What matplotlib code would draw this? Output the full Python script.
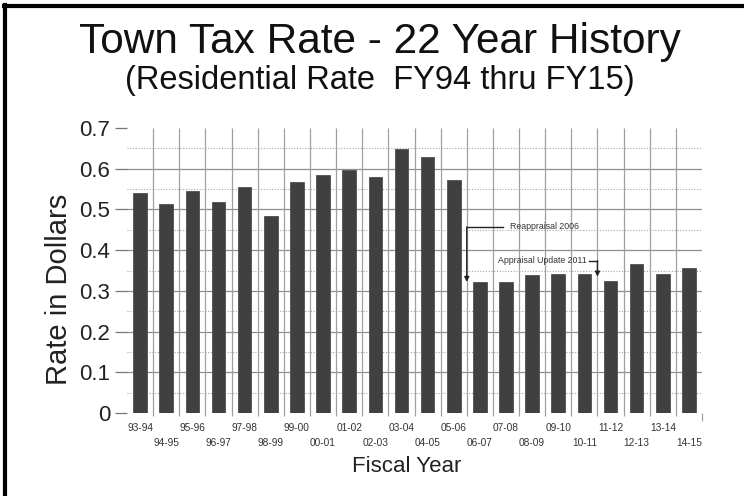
import matplotlib
matplotlib.use("Agg")
import matplotlib.pyplot as plt
import numpy as np
from matplotlib.lines import Line2D
from matplotlib.ticker import MultipleLocator

plt.rcParams['font.family'] = ['Liberation Sans', 'DejaVu Sans']

fiscal_years = ["93-94", "94-95", "95-96", "96-97", "97-98", "98-99", "99-00", "00-01",
                "01-02", "02-03", "03-04", "04-05", "05-06", "06-07", "07-08", "08-09",
                "09-10", "10-11", "11-12", "12-13", "13-14", "14-15"]
rates = [0.54, 0.513, 0.545, 0.519, 0.555, 0.485, 0.568, 0.585,
         0.598, 0.58, 0.648, 0.63, 0.573, 0.321, 0.321, 0.339,
         0.342, 0.342, 0.324, 0.365, 0.342, 0.356]

title = "Town Tax Rate - 22 Year History"
subtitle = "(Residential Rate  FY94 thru FY15)"
ylabel = "Rate in Dollars"
xlabel = "Fiscal Year"

# annotations (label, arrow x in category units, line y, arrow tip y)
ann1_text = "Reappraisal 2006"
ann1_x, ann1_y, ann1_tip = 12.5, 0.457, 0.322
ann2_text = "Appraisal Update 2011"
ann2_x, ann2_y, ann2_tip = 17.5, 0.374, 0.335

W, H = 744, 496
fig = plt.figure(figsize=(W / 100, H / 100), dpi=100)
fig.patch.set_facecolor("white")
ax = fig.add_axes([127 / W, 1 - 413 / H, 575 / W, 285 / H])

n = len(fiscal_years)
x = np.arange(n)
ax.bar(x, rates, width=0.52, color="#404040", edgecolor="#505050", linewidth=0.6, zorder=3)

ax.set_xlim(-0.5, n - 0.5)
ax.set_ylim(0, 0.7)

# grid
ax.yaxis.set_major_locator(MultipleLocator(0.1))
ax.yaxis.set_minor_locator(MultipleLocator(0.05))
for yv in np.arange(0.1, 0.65, 0.1):
    ax.axhline(yv, color="#8f8f8f", lw=0.9, zorder=1)
for yv in np.arange(0.05, 0.7, 0.1):
    ax.axhline(yv, color="#a5a5a5", lw=0.8, ls=(0, (1, 1.5)), zorder=1)
ax.vlines(x[:-1] + 0.5, -0.008, 0.7, color="#a0a0a0", lw=0.9, zorder=1, clip_on=False)
ax.vlines([n - 0.5], -0.02, 0.0, color="#a0a0a0", lw=0.9, zorder=1, clip_on=False)

for s in ax.spines.values():
    s.set_visible(False)

ax.tick_params(axis="y", which="major", direction="out", length=9, width=0.9,
               color="#777777", labelsize=16, labelcolor="#222222", pad=3)
ax.tick_params(axis="y", which="minor", length=0)
ax.set_yticks(np.arange(0, 0.71, 0.1))
ax.set_yticklabels(["0" if v == 0 else f"{v:.1f}" for v in np.arange(0, 0.71, 0.1)])

# two rows of x labels
ax.set_xticks(x[::2])
ax.set_xticklabels(fiscal_years[::2])
ax.set_xticks(x[1::2], minor=True)
ax.set_xticklabels(fiscal_years[1::2], minor=True)
ax.tick_params(axis="x", which="major", length=0, pad=7, labelsize=7.3, labelcolor="#333333")
ax.tick_params(axis="x", which="minor", length=0, pad=18, labelsize=7.3, labelcolor="#333333")

# annotations
ac = "#222222"
ax.plot([ann1_x, ann1_x + 1.39], [ann1_y, ann1_y], color=ac, lw=1.0, zorder=4)
ax.annotate("", xy=(ann1_x, ann1_tip), xytext=(ann1_x, ann1_y),
            arrowprops=dict(arrowstyle="-|>", color=ac, lw=1.0, mutation_scale=7,
                            shrinkA=0, shrinkB=0), zorder=4)
ax.text(ann1_x + 1.65, ann1_y, ann1_text, fontsize=6.3, color="#333333",
        ha="left", va="center", zorder=4)

ax.plot([ann2_x - 0.32, ann2_x], [ann2_y, ann2_y], color=ac, lw=1.0, zorder=4)
ax.annotate("", xy=(ann2_x, ann2_tip), xytext=(ann2_x, ann2_y),
            arrowprops=dict(arrowstyle="-|>", color=ac, lw=1.0, mutation_scale=7,
                            shrinkA=0, shrinkB=0), zorder=4)
ax.text(ann2_x - 0.4, ann2_y, ann2_text, fontsize=6.3, color="#333333",
        ha="right", va="center", zorder=4)

# titles and labels
fig.text(380 / W, 1 - 52.7 / H, title, fontsize=30.5, ha="center", va="baseline", color="#111111")
fig.text(380 / W, 1 - 89.5 / H, subtitle, fontsize=23.5, ha="center", va="baseline", color="#111111")
fig.text(59 / W, 1 - 289 / H, ylabel, fontsize=21, rotation=90, ha="center", va="center",
         color="#222222")
fig.text(407 / W, 1 - 466 / H, xlabel, fontsize=16, ha="center", va="center", color="#222222")

# partial frame (left and top)
fig.add_artist(Line2D([5 / W, 5 / W], [0, 1 - 5 / H], transform=fig.transFigure,
                      color="black", lw=3))
fig.add_artist(Line2D([5 / W - 0.002, 1], [1 - 5.5 / H, 1 - 5.5 / H], transform=fig.transFigure,
                      color="black", lw=3))

fig.savefig("out.png", dpi=100, facecolor="white")
